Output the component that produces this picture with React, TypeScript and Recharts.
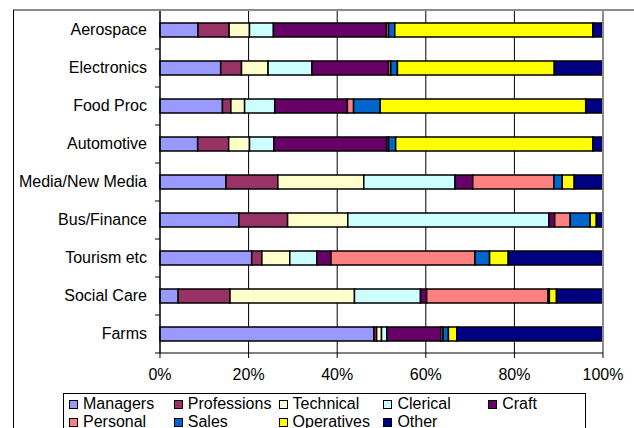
import React from 'react';
import { BarChart, Bar, XAxis, YAxis, CartesianGrid, ReferenceLine } from 'recharts';

const categories = ['Aerospace', 'Electronics', 'Food Proc', 'Automotive', 'Media/New Media', 'Bus/Finance', 'Tourism etc', 'Social Care', 'Farms'];
const seriesNames = ['Managers', 'Professions', 'Technical', 'Clerical', 'Craft', 'Personal', 'Sales', 'Operatives', 'Other'];
const managers = [8.6, 13.7, 14.1, 8.5, 14.9, 17.8, 20.7, 4.1, 48.3];
const professions = [7.0, 4.7, 1.9, 7.0, 11.7, 11.0, 2.3, 11.7, 0.6];
const technical = [4.6, 6.0, 3.1, 4.7, 19.4, 13.6, 6.3, 28.1, 1.1];
const clerical = [5.4, 9.9, 6.8, 5.5, 20.6, 45.4, 6.1, 14.9, 1.2];
const craft = [25.5, 17.3, 16.4, 25.5, 4.0, 1.3, 3.2, 1.4, 12.2];
const personal = [0.5, 0.5, 1.4, 0.4, 18.3, 3.5, 32.5, 27.4, 0.5];
const sales = [1.4, 1.5, 6.0, 1.6, 1.9, 4.5, 3.3, 0.3, 1.2];
const operatives = [44.7, 35.4, 46.4, 44.5, 2.7, 1.4, 4.2, 1.6, 1.9];
const other = [2.3, 11.0, 3.9, 2.3, 6.5, 1.5, 21.4, 10.5, 33.0];
const xTicks = [0, 0.2, 0.4, 0.6, 0.8, 1];
const colors = ['#9999FF', '#993366', '#FFFFCC', '#CCFFFF', '#660066', '#FF8080', '#0066CC', '#FFFF00', '#000080'];

const seriesValues = [managers, professions, technical, clerical, craft, personal, sales, operatives, other];
const data = categories.map((name, i) => {
  const row: Record<string, any> = { name };
  seriesNames.forEach((s, j) => {
    row[s] = seriesValues[j][i];
  });
  return row;
});

const W = 634;
const H = 428;
const MARGIN = { top: 11, right: 31, bottom: 45, left: 0 };
const Y_W = 160;
const X_H = 30;
const PLOT_H = H - MARGIN.top - MARGIN.bottom - X_H;
const bandHalf = PLOT_H / categories.length / 2;
const FONT = '"Liberation Sans", Arial, sans-serif';

const YTick = (props: any) => {
  const { x, y, payload } = props;
  return (
    <g>
      <text x={x - 13} y={y} dy={5} textAnchor="end" fontSize={16} fontFamily={FONT} fill="#000">
        {payload.value}
      </text>
      <line x1={x - 5} x2={x} y1={y + bandHalf} y2={y + bandHalf} stroke="#000" strokeWidth={1} />
    </g>
  );
};

export default function App() {
  return (
    <div style={{ position: 'absolute', left: 0, top: 0, width: W, height: H, background: '#fff', overflow: 'hidden', fontFamily: FONT }}>
      <div style={{ position: 'absolute', left: 13, top: 9, width: W - 13, height: 2, background: '#8c8c8c' }} />
      <div style={{ position: 'absolute', left: 13, top: 10, width: 1, height: H - 10, background: '#000' }} />
      <div style={{ position: 'absolute', left: 0, top: 0 }}>
        <BarChart width={W} height={H} data={data} layout="vertical" stackOffset="expand" margin={MARGIN} barCategoryGap="60%">
          <CartesianGrid horizontal={false} stroke="#000" strokeWidth={1} />
          <XAxis
            type="number"
            domain={[0, 1]}
            ticks={xTicks}
            height={X_H}
            tickFormatter={(v: number) => `${Math.round(v * 100)}%`}
            tick={{ fontSize: 16, fontFamily: FONT, fill: '#000' }}
            tickSize={5}
            tickMargin={11}
            axisLine={{ stroke: '#000' }}
            tickLine={{ stroke: '#000' }}
            interval={0}
          />
          <YAxis
            type="category"
            dataKey="name"
            width={Y_W}
            tick={<YTick />}
            tickLine={false}
            tickSize={0}
            tickMargin={0}
            axisLine={{ stroke: '#000' }}
            interval={0}
          />
          {seriesNames.map((s, j) => (
            <Bar key={s} dataKey={s} stackId="a" fill={colors[j]} stroke="#000" strokeWidth={1.5} barSize={14} isAnimationActive={false} />
          ))}
          <ReferenceLine x={1} stroke="#8c8c8c" strokeWidth={2} />
        </BarChart>
      </div>
      <div style={{ position: 'absolute', left: 63, top: 393, width: 521, height: 40, border: '1px solid #000', background: '#fff' }}>
        {seriesNames.map((s, j) => {
          const col = j < 5 ? j : j - 5;
          const row = j < 5 ? 0 : 1;
          const left = 5 + col * 104.8;
          const top = row === 0 ? 10 : 28;
          return (
            <div key={s} style={{ position: 'absolute', left, top: top - 9, height: 18, display: 'flex', alignItems: 'center', whiteSpace: 'nowrap' }}>
              <div style={{ width: 7, height: 7, background: colors[j], border: '1px solid #000', marginRight: 5 }} />
              <span style={{ fontSize: 16, lineHeight: '18px', color: '#000' }}>{s}</span>
            </div>
          );
        })}
      </div>
    </div>
  );
}
